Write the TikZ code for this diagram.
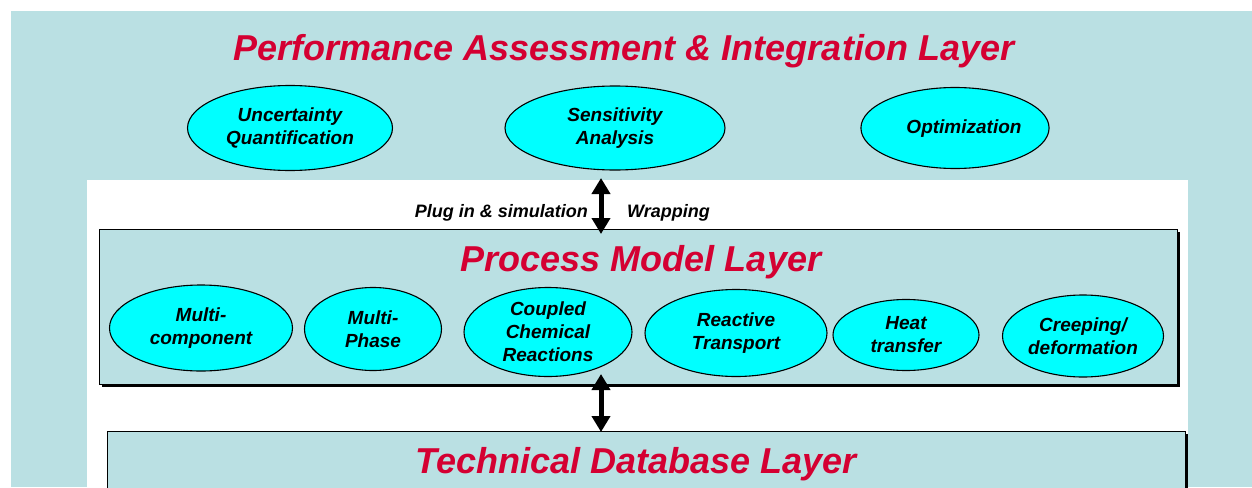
\documentclass[tikz,border=0pt]{standalone}
\usepackage{fontspec}
\setmainfont{Liberation Sans}
\usetikzlibrary{shapes.geometric,arrows.meta}
\definecolor{layerbg}{RGB}{186,224,227}
\definecolor{titlered}{RGB}{212,0,50}
\definecolor{bubblefill}{RGB}{0,255,255}
\begin{document}
\begin{tikzpicture}[x=1pt,y=-1pt,
  bubble/.style={ellipse,draw=black,line width=1.1pt,fill=bubblefill,inner sep=0pt,
    align=center,font=\fontsize{19}{23}\selectfont\bfseries\itshape},
  layertitle/.style={text=titlered,font=\fontsize{36}{40}\selectfont\bfseries\itshape,
    anchor=base,inner sep=0pt},
  layerbox/.style={draw=black,line width=1.2pt,fill=layerbg,inner sep=0pt,anchor=north west},
  link/.style={line width=5pt,{Triangle[width=18pt,length=16pt]}-{Triangle[width=18pt,length=16pt]}},
  note/.style={font=\fontsize{18}{21}\selectfont\bfseries\itshape,inner sep=0pt}]
\useasboundingbox (0,0) rectangle (1252,487);

% backdrop: blue frame with a white inner panel
\fill[layerbg] (11,11) rectangle (1252,487);
\fill[white] (87,180) rectangle (1188,487);

% top layer
\node[layertitle] (paTitle) at (624,60) {Performance Assessment \& Integration Layer};
\node[bubble,minimum width=205pt,minimum height=85pt] (uq) at (290,128) {Uncertainty\\Quantification};
\node[bubble,minimum width=220pt,minimum height=84pt] (sa) at (615,128) {Sensitivity\\Analysis};
\node[bubble,minimum width=186pt,minimum height=81pt] (opt) at (955,128) {\hspace*{18pt}Optimization\\[-20pt]\mbox{}};

% process model layer
\fill[black] (101.5,231.5) rectangle (1179.5,386.5);
\node[layerbox,minimum width=1078pt,minimum height=155pt] (pml) at (99,229) {};
\node[layertitle] (pmTitle) at (641,271) {Process Model Layer};
\node[bubble,minimum width=183pt,minimum height=86pt] (mc) at (201,328) {Multi-\\component};
\node[bubble,minimum width=137pt,minimum height=83pt] (mp) at (373,329) {Multi-\\Phase};
\node[bubble,minimum width=168pt,minimum height=89pt] (ccr) at (548,332) {Coupled\\Chemical\\Reactions};
\node[bubble,minimum width=182pt,minimum height=87pt] (rt) at (736,333) {Reactive\\Transport};
\node[bubble,minimum width=146pt,minimum height=71pt] (ht) at (906,335) {Heat\\transfer};
\node[bubble,minimum width=161pt,minimum height=82pt] (cd) at (1083,336) {Creeping/\\deformation};

% technical database layer
\fill[black] (109.5,433.5) rectangle (1187.5,520);
\node[layerbox,minimum width=1078pt,minimum height=90pt] (tdl) at (107,431) {};
\node[layertitle] (tdTitle) at (636,473) {Technical Database Layer};

% links between layers
\coordinate (paBase) at (601,178);
\coordinate (pmTop) at (601,234);
\coordinate (pmBase) at (601,374);
\coordinate (tdTop) at (601,432);
\draw[link] (paBase) -- (pmTop);
\draw[link] (pmBase) -- (tdTop);
\node[note,anchor=base east] (plug) at (588,217) {Plug in \& simulation};
\node[note,anchor=base west] (wrap) at (627,217) {Wrapping};
\end{tikzpicture}
\end{document}
